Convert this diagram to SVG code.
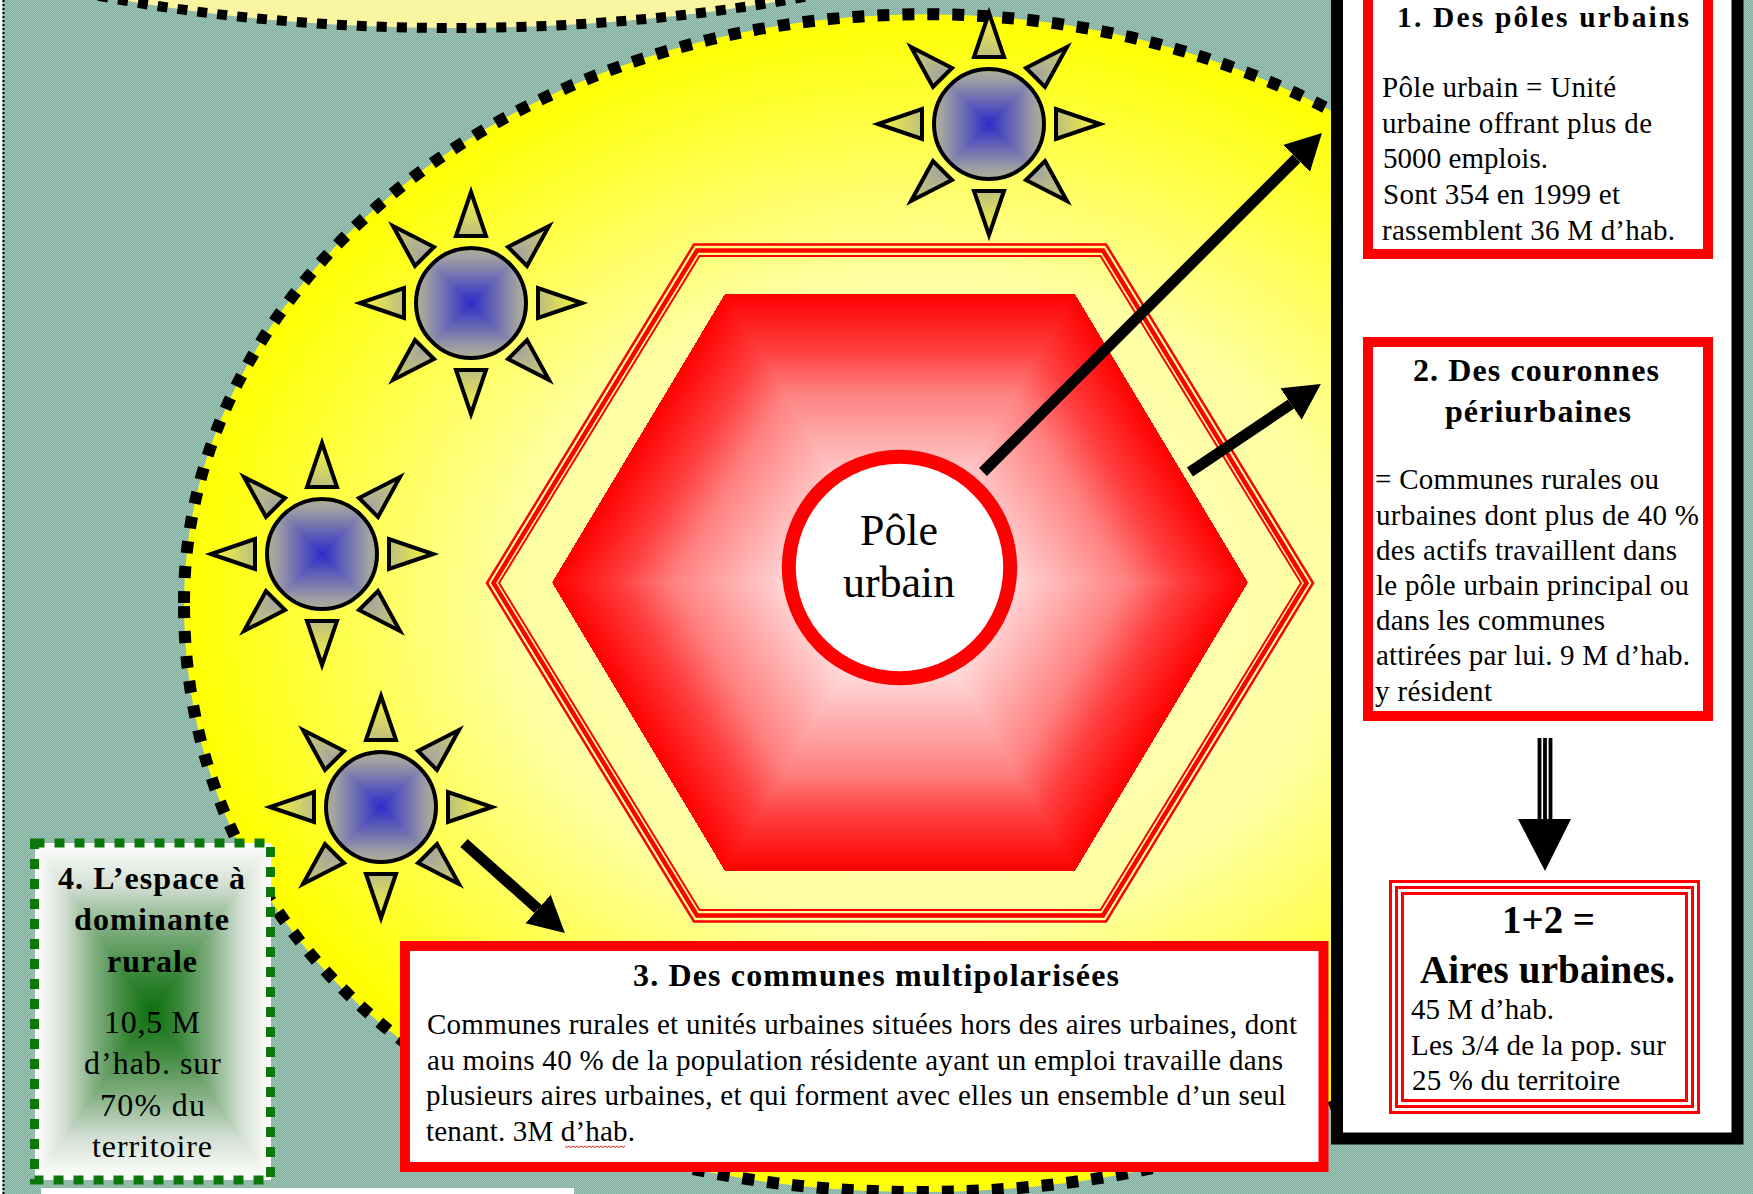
<svg xmlns="http://www.w3.org/2000/svg" xmlns:xlink="http://www.w3.org/1999/xlink" width="1753" height="1194" viewBox="0 0 1753 1194">
<style>
text{font-family:"Liberation Serif","Times New Roman",serif;fill:#000;font-size:29px}
.b{font-weight:bold;font-size:32px}
.t1{font-weight:bold;font-size:29.5px}
.big{font-weight:bold;font-size:39px}
.pu{font-size:44px}
.g{font-size:32px}
.frame{fill:#fff;stroke:#f00;stroke-width:10}
.tri{fill:none;stroke:#f00;stroke-width:3}
.hl{fill:none;stroke:#f00}
.arrow{stroke:#000;stroke-width:11;fill:none;marker-end:url(#head)}
.sec{shape-rendering:crispEdges}
</style>
<defs>
<pattern id="dither" width="2" height="2" patternUnits="userSpaceOnUse">
<rect width="2" height="2" fill="#7fae9d"/><rect width="1" height="1" fill="#a2c6b8" shape-rendering="crispEdges"/><rect x="1" y="1" width="1" height="1" fill="#a2c6b8" shape-rendering="crispEdges"/>
</pattern>
<radialGradient id="blob"><stop offset="0" stop-color="#ffffc8"/><stop offset=".55" stop-color="#ffffa4"/><stop offset="1" stop-color="#ffff00"/></radialGradient>
<marker id="head" markerUnits="userSpaceOnUse" markerWidth="36" markerHeight="40" refX="0" refY="20" viewBox="0 0 36 40" orient="auto"><path d="M0 1L36 20L0 39Z" fill="#000"/></marker>
<linearGradient id="rs" gradientUnits="userSpaceOnUse" x1="0" y1="0" x2="0" y2="1"><stop offset=".2" stop-color="#fff"/><stop offset=".34" stop-color="#ffd4d4"/><stop offset=".66" stop-color="#ff8080"/><stop offset=".8" stop-color="#ff4040"/><stop offset="1" stop-color="#f00"/></linearGradient>
<linearGradient id="r1" xlink:href="#rs" gradientUnits="userSpaceOnUse" x1="900" y1="582.5" x2="900" y2="294"/>
<linearGradient id="r2" xlink:href="#rs" gradientUnits="userSpaceOnUse" x1="900" y1="582.5" x2="1156" y2="430"/>
<linearGradient id="r3" xlink:href="#rs" gradientUnits="userSpaceOnUse" x1="900" y1="582.5" x2="1156" y2="735"/>
<linearGradient id="r4" xlink:href="#rs" gradientUnits="userSpaceOnUse" x1="900" y1="582.5" x2="900" y2="871"/>
<linearGradient id="r5" xlink:href="#rs" gradientUnits="userSpaceOnUse" x1="900" y1="582.5" x2="644" y2="735"/>
<linearGradient id="r6" xlink:href="#rs" gradientUnits="userSpaceOnUse" x1="900" y1="582.5" x2="644" y2="430"/>
<linearGradient id="ss"><stop offset="0" stop-color="#2c2cca"/><stop offset=".4" stop-color="#a2a2a2"/><stop offset="1" stop-color="#ffff30"/></linearGradient>
<linearGradient id="sn" xlink:href="#ss" gradientUnits="userSpaceOnUse" x1="0" y1="0" x2="0" y2="-116"/>
<linearGradient id="se" xlink:href="#ss" gradientUnits="userSpaceOnUse" x1="0" y1="0" x2="116" y2="0"/>
<linearGradient id="sS" xlink:href="#ss" gradientUnits="userSpaceOnUse" x1="0" y1="0" x2="0" y2="116"/>
<linearGradient id="sw" xlink:href="#ss" gradientUnits="userSpaceOnUse" x1="0" y1="0" x2="-116" y2="0"/>
<path id="sunshape" d="M0-111L15-67H-15ZM0 111L15 67H-15ZM111 0L67 15V-15ZM-111 0L-67 15V-15ZM78-77L37-56L56-37ZM-78-77L-37-56L-56-37ZM78 77L37 56L56 37ZM-78 77L-37 56L-56 37Z"/>
<clipPath id="sunclip"><use xlink:href="#sunshape"/><circle r="55"/></clipPath>
<g id="sun">
<g clip-path="url(#sunclip)">
<polygon class="sec" points="0,0 -120,-120 120,-120" fill="url(#sn)"/>
<polygon class="sec" points="0,0 120,-120 120,120" fill="url(#se)"/>
<polygon class="sec" points="0,0 120,120 -120,120" fill="url(#sS)"/>
<polygon class="sec" points="0,0 -120,120 -120,-120" fill="url(#sw)"/>
</g>
<use xlink:href="#sunshape" fill="none" stroke="#000" stroke-width="4"/>
<circle r="55" fill="none" stroke="#000" stroke-width="4"/>
</g>
<linearGradient id="gs"><stop offset="0" stop-color="#0e700e"/><stop offset=".25" stop-color="#3f8a3f"/><stop offset=".5" stop-color="#84b084"/><stop offset=".75" stop-color="#d4e0d4"/><stop offset="1" stop-color="#fff"/></linearGradient>
<linearGradient id="g1" xlink:href="#gs" gradientUnits="userSpaceOnUse" x1="152.5" y1="1011.5" x2="152.5" y2="843"/>
<linearGradient id="g2" xlink:href="#gs" gradientUnits="userSpaceOnUse" x1="152.5" y1="1011.5" x2="270.5" y2="1011.5"/>
<linearGradient id="g3" xlink:href="#gs" gradientUnits="userSpaceOnUse" x1="152.5" y1="1011.5" x2="152.5" y2="1180"/>
<linearGradient id="g4" xlink:href="#gs" gradientUnits="userSpaceOnUse" x1="152.5" y1="1011.5" x2="34.5" y2="1011.5"/>
</defs>

<rect id="background" width="1753" height="1194" fill="url(#dither)"/>
<rect x="0" y="0" width="2.5" height="1194" fill="#fff"/>
<line x1="3.5" y1="0" x2="3.5" y2="1194" stroke="#000" stroke-width="2" stroke-dasharray="2 2"/>
<rect x="41" y="1188" width="533" height="6" fill="#fff"/>

<g id="aire-haut"><ellipse cx="454" cy="-340" rx="870" ry="368" fill="#faf5a0" stroke="#000" stroke-width="10" stroke-dasharray="10 10"/></g>
<g id="espace-periurbain"><path d="M184 603A741 589 0 0 1 1666 603C1666 928 1390 1192 920 1192C450 1192 184 928 184 603Z" fill="url(#blob)" stroke="#000" stroke-width="12" stroke-dasharray="12 13"/></g>

<g id="couronne">
<polygon class="hl" stroke-width="2.5" points="694,244.5 1106,244.5 1313,583 1106,921.5 694,921.5 487,583"/>
<polygon class="hl" stroke-width="4.5" points="697,250.5 1103,250.5 1306.5,583 1103,915.5 697,915.5 493.5,583"/>
<polygon class="hl" stroke-width="2" points="699.5,256 1100.5,256 1301,583 1100.5,910 699.5,910 499,583"/>
</g>
<g id="hexagone">
<polygon class="sec" points="900,582.5 725,294 1075,294" fill="url(#r1)"/>
<polygon class="sec" points="900,582.5 1075,294 1248,582.5" fill="url(#r2)"/>
<polygon class="sec" points="900,582.5 1248,582.5 1075,871" fill="url(#r3)"/>
<polygon class="sec" points="900,582.5 1075,871 725,871" fill="url(#r4)"/>
<polygon class="sec" points="900,582.5 725,871 552,582.5" fill="url(#r5)"/>
<polygon class="sec" points="900,582.5 552,582.5 725,294" fill="url(#r6)"/>
</g>
<g id="pole-urbain">
<circle cx="899.5" cy="567.5" r="110.7" fill="#fff" stroke="#f00" stroke-width="14"/>
<text class="pu" x="860" y="545" textLength="78">Pôle</text>
<text class="pu" x="843" y="597" textLength="112">urbain</text>
</g>
<g id="sun-1"><use xlink:href="#sun" x="989" y="124"/></g>
<g id="sun-2"><use xlink:href="#sun" x="471" y="303"/></g>
<g id="sun-3"><use xlink:href="#sun" x="322" y="554"/></g>
<g id="sun-4"><use xlink:href="#sun" x="381" y="807"/></g>

<g id="panneau"><rect x="1337" y="-20" width="400.5" height="1158.5" fill="#fff" stroke="#000" stroke-width="12"/></g>

<g id="connectors">
<line class="arrow" x1="983" y1="472" x2="1296.5" y2="158.5"/>
<line class="arrow" x1="1190" y1="472" x2="1291" y2="404"/>
<line class="arrow" x1="464" y1="843" x2="538" y2="909"/>
<g stroke="#000" stroke-width="3.8">
<line x1="1539.5" y1="738" x2="1539.5" y2="820"/><line x1="1545" y1="738" x2="1545" y2="820"/><line x1="1550.5" y1="738" x2="1550.5" y2="820"/>
</g>
<polygon points="1518,819 1571,819 1545,871" fill="#000"/>
</g>

<g id="box-1">
<rect class="frame" x="1368" y="-20" width="340" height="274"/>
<text class="t1" x="1397" y="26.5" textLength="292">1. Des pôles urbains</text>
<text x="1382" y="97" textLength="234">Pôle urbain = Unité</text>
<text x="1382" y="133" textLength="270">urbaine offrant plus de</text>
<text x="1383" y="168" textLength="165">5000 emplois.</text>
<text x="1383" y="204" textLength="237">Sont 354 en 1999 et</text>
<text x="1382" y="240" textLength="293">rassemblent 36 M d’hab.</text>
</g>
<g id="box-2">
<rect class="frame" x="1368" y="342" width="340" height="374"/>
<text class="b" x="1413" y="381" textLength="246">2. Des couronnes</text>
<text class="b" x="1445" y="422" textLength="186">périurbaines</text>
<text x="1375" y="489" textLength="284">= Communes rurales ou</text>
<text x="1376" y="525" textLength="323">urbaines dont plus de 40 %</text>
<text x="1376" y="560" textLength="301">des actifs travaillent dans</text>
<text x="1376" y="595" textLength="313">le pôle urbain principal ou</text>
<text x="1376" y="630" textLength="229">dans les communes</text>
<text x="1376" y="665" textLength="314">attirées par lui. 9 M d’hab.</text>
<text x="1375" y="701" textLength="117">y résident</text>
</g>
<g id="box-aires">
<rect x="1389" y="880" width="311" height="234" fill="#fff"/>
<rect class="tri" x="1390.5" y="881.5" width="308" height="231"/>
<rect class="tri" x="1396.5" y="887.5" width="296" height="219"/>
<rect class="tri" x="1402.5" y="893.5" width="284" height="207"/>
<text class="big" x="1502" y="933" textLength="93">1+2 =</text>
<text class="big" x="1420" y="983" textLength="255">Aires urbaines.</text>
<text x="1411" y="1019" textLength="143">45 M d’hab.</text>
<text x="1411" y="1055" textLength="255">Les 3/4 de la pop. sur</text>
<text x="1412" y="1090" textLength="208">25 % du territoire</text>
</g>
<g id="box-3">
<rect class="frame" x="405" y="946" width="918.5" height="221"/>
<text class="b" x="633" y="986" textLength="486">3. Des communes multipolarisées</text>
<text x="427" y="1034" textLength="870">Communes rurales et unités urbaines situées hors des aires urbaines, dont</text>
<text x="427" y="1070" textLength="856">au moins 40 % de la population résidente ayant un emploi travaille dans</text>
<text x="426" y="1105" textLength="860">plusieurs aires urbaines, et qui forment avec elles un ensemble d’un seul</text>
<text x="426" y="1141" textLength="209">tenant. 3M d’hab.</text>
<path d="M565 1146l2 1.5 2-1.5 2 1.5 2-1.5 2 1.5 2-1.5 2 1.5 2-1.5 2 1.5 2-1.5 2 1.5 2-1.5 2 1.5 2-1.5 2 1.5 2-1.5 2 1.5 2-1.5 2 1.5 2-1.5 2 1.5 2-1.5 2 1.5 2-1.5 2 1.5 2-1.5 2 1.5 2-1.5 2 1.5 2-1.5" fill="none" stroke="#e02020" stroke-width="1"/>
</g>
<g id="box-4">
<polygon class="sec" points="152.5,1011.5 34.5,843 270.5,843" fill="url(#g1)"/>
<polygon class="sec" points="152.5,1011.5 270.5,843 270.5,1180" fill="url(#g2)"/>
<polygon class="sec" points="152.5,1011.5 270.5,1180 34.5,1180" fill="url(#g3)"/>
<polygon class="sec" points="152.5,1011.5 34.5,1180 34.5,843" fill="url(#g4)"/>
<rect x="34.5" y="843" width="236" height="337" fill="none" stroke="#0c780c" stroke-width="9" stroke-dasharray="10 10"/>
<text class="b" x="58" y="889" textLength="187">4. L’espace à</text>
<text class="b" x="74" y="930" textLength="155">dominante</text>
<text class="b" x="107" y="972" textLength="90">rurale</text>
<text class="g" x="104" y="1033" textLength="96">10,5 M</text>
<text class="g" x="84" y="1074" textLength="137">d’hab. sur</text>
<text class="g" x="100" y="1116" textLength="105">70% du</text>
<text class="g" x="92" y="1157" textLength="120">territoire</text>
</g>
</svg>
